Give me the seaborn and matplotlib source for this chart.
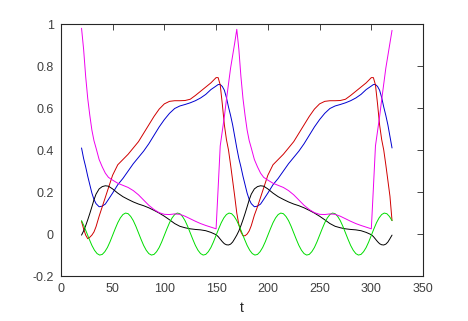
import seaborn as sns
import pandas as pd
import matplotlib.pyplot as plt
from matplotlib.ticker import FuncFormatter

# time grid for the two cycles (t = 20 .. 320)
t = [20, 22, 24, 26, 28, 30, 32, 34, 37, 40, 43, 46, 50, 55, 60, 65, 70, 75, 80, 85,
     90, 95, 100, 105, 110, 115, 120, 125, 130, 135, 140, 145, 150, 152, 154, 156, 158,
     160, 162, 164, 166, 168,
     170, 172, 174, 176, 178, 180, 182, 184, 187, 190, 193, 196, 200, 205, 210, 215, 220,
     225, 230, 235, 240, 245, 250, 255, 260, 265, 270, 275, 280, 285, 290, 295, 300, 302,
     304, 306, 308, 310, 312, 314, 316, 318, 320]

blue = [0.41, 0.36, 0.32, 0.275, 0.235, 0.195, 0.165, 0.145, 0.13, 0.133, 0.143, 0.165,
        0.195, 0.235, 0.265, 0.30, 0.335, 0.365, 0.395, 0.43, 0.47, 0.51, 0.545, 0.575,
        0.598, 0.61, 0.617, 0.625, 0.635, 0.648, 0.665, 0.688, 0.705, 0.712, 0.712, 0.703,
        0.685, 0.65, 0.605, 0.565, 0.52, 0.465,
        0.41, 0.36, 0.32, 0.275, 0.235, 0.195, 0.165, 0.145, 0.13, 0.133, 0.143, 0.165,
        0.195, 0.235, 0.265, 0.30, 0.335, 0.365, 0.395, 0.43, 0.47, 0.51, 0.545, 0.575,
        0.598, 0.61, 0.617, 0.625, 0.635, 0.648, 0.665, 0.688, 0.705, 0.712, 0.712, 0.703,
        0.685, 0.65, 0.605, 0.565, 0.52, 0.465, 0.41]

red = [0.06, 0.025, -0.005, -0.022, -0.015, -0.005, 0.01, 0.035, 0.085, 0.13, 0.175, 0.22,
       0.28, 0.33, 0.355, 0.38, 0.41, 0.44, 0.48, 0.52, 0.56, 0.595, 0.62, 0.632, 0.635,
       0.635, 0.636, 0.642, 0.66, 0.68, 0.70, 0.72, 0.745, 0.745, 0.71, 0.62, 0.52, 0.45,
       0.40, 0.33, 0.255, 0.18,
       0.10, 0.045, 0.01, -0.008, -0.008, 0.0, 0.015, 0.04, 0.09, 0.13, 0.175, 0.22,
       0.28, 0.33, 0.355, 0.38, 0.41, 0.44, 0.48, 0.52, 0.56, 0.595, 0.62, 0.632, 0.635,
       0.635, 0.636, 0.642, 0.66, 0.68, 0.70, 0.72, 0.745, 0.745, 0.71, 0.62, 0.52, 0.45,
       0.40, 0.33, 0.255, 0.18, 0.064]

black = [-0.005, 0.015, 0.04, 0.068, 0.098, 0.13, 0.163, 0.19, 0.215, 0.226, 0.23, 0.228,
         0.215, 0.195, 0.178, 0.165, 0.153, 0.143, 0.135, 0.125, 0.113, 0.10, 0.085, 0.068,
         0.05, 0.037, 0.03, 0.025, 0.022, 0.02, 0.016, 0.008, -0.003, -0.012, -0.024,
         -0.036, -0.046, -0.051, -0.052, -0.048, -0.038, -0.022,
         -0.005, 0.015, 0.04, 0.068, 0.098, 0.13, 0.163, 0.19, 0.215, 0.226, 0.23, 0.228,
         0.215, 0.195, 0.178, 0.165, 0.153, 0.143, 0.135, 0.125, 0.113, 0.10, 0.085, 0.068,
         0.05, 0.037, 0.03, 0.025, 0.022, 0.02, 0.016, 0.008, -0.003, -0.012, -0.024,
         -0.036, -0.046, -0.051, -0.052, -0.048, -0.038, -0.022, -0.005]

magenta = [0.98, 0.88, 0.75, 0.645, 0.565, 0.495, 0.445, 0.41, 0.355, 0.32, 0.29, 0.27,
           0.257, 0.242, 0.232, 0.222, 0.207, 0.187, 0.162, 0.137, 0.117, 0.102, 0.094,
           0.093, 0.096, 0.094, 0.085, 0.073, 0.061, 0.05, 0.041, 0.033, 0.025, 0.22, 0.42,
           0.49, 0.56, 0.64, 0.715, 0.79, 0.85, 0.91,
           0.975, 0.88, 0.75, 0.645, 0.565, 0.495, 0.445, 0.41, 0.355, 0.32, 0.29, 0.27,
           0.257, 0.242, 0.232, 0.222, 0.207, 0.187, 0.162, 0.137, 0.117, 0.102, 0.094,
           0.093, 0.096, 0.094, 0.085, 0.073, 0.061, 0.05, 0.041, 0.033, 0.025, 0.22, 0.42,
           0.49, 0.56, 0.64, 0.715, 0.79, 0.85, 0.91, 0.97]

# green oscillation, sampled every 2.5
t_green = [20 + 2.5 * i for i in range(121)]
green = [0.064, 0.037, 0.006, -0.025, -0.054, -0.077, -0.093, -0.1, -0.097, -0.084,
         -0.064, -0.037, -0.006, 0.025, 0.054, 0.077, 0.093, 0.1, 0.097, 0.084,
         0.064, 0.037, 0.006, -0.025, -0.054, -0.077, -0.093, -0.1, -0.097, -0.084,
         -0.064, -0.037, -0.006, 0.025, 0.054, 0.077, 0.093, 0.1, 0.097, 0.084,
         0.064, 0.037, 0.006, -0.025, -0.054, -0.077, -0.093, -0.1, -0.097, -0.084,
         -0.064, -0.037, -0.006, 0.025, 0.054, 0.077, 0.093, 0.1, 0.097, 0.084,
         0.064, 0.037, 0.006, -0.025, -0.054, -0.077, -0.093, -0.1, -0.097, -0.084,
         -0.064, -0.037, -0.006, 0.025, 0.054, 0.077, 0.093, 0.1, 0.097, 0.084,
         0.064, 0.037, 0.006, -0.025, -0.054, -0.077, -0.093, -0.1, -0.097, -0.084,
         -0.064, -0.037, -0.006, 0.025, 0.054, 0.077, 0.093, 0.1, 0.097, 0.084,
         0.064, 0.037, 0.006, -0.025, -0.054, -0.077, -0.093, -0.1, -0.097, -0.084,
         -0.064, -0.037, -0.006, 0.025, 0.054, 0.077, 0.093, 0.1, 0.097, 0.084,
         0.064]

frames = []
for name, xs, ys in [("blue", t, blue), ("red", t, red), ("black", t, black),
                     ("green", t_green, green), ("magenta", t, magenta)]:
    frames.append(pd.DataFrame({"t": xs, "value": ys, "series": name}))
df = pd.concat(frames, ignore_index=True)

palette = {"blue": "#0000d0", "red": "#d00000", "black": "#000000",
           "green": "#00dd00", "magenta": "#ee00ee"}

sns.set_style("white")
plt.rcParams["font.family"] = ["Liberation Sans", "DejaVu Sans"]

fig, ax = plt.subplots(figsize=(4.68, 3.21), dpi=100)
fig.subplots_adjust(left=0.130, right=0.904, bottom=0.140, top=0.925)

sns.lineplot(data=df, x="t", y="value", hue="series", palette=palette,
             estimator=None, sort=False, legend=False, linewidth=0.7, ax=ax)

ax.set_xlim(0, 350)
ax.set_ylim(-0.2, 1)
ax.set_xticks([0, 50, 100, 150, 200, 250, 300, 350])
ax.set_yticks([-0.2, 0, 0.2, 0.4, 0.6, 0.8, 1])
ax.yaxis.set_major_formatter(FuncFormatter(lambda v, p: "%g" % round(v, 2)))
ax.set_xlabel("t", fontsize=10, color="#262626", labelpad=4)
ax.set_ylabel("")
ax.tick_params(direction="in", top=True, right=True, length=4, width=0.6,
               labelsize=9, colors="#262626", labelcolor="#404040", pad=5)
for s in ax.spines.values():
    s.set_visible(True)
    s.set_color("#262626")
    s.set_linewidth(0.8)

plt.savefig("out.png", dpi=100)
